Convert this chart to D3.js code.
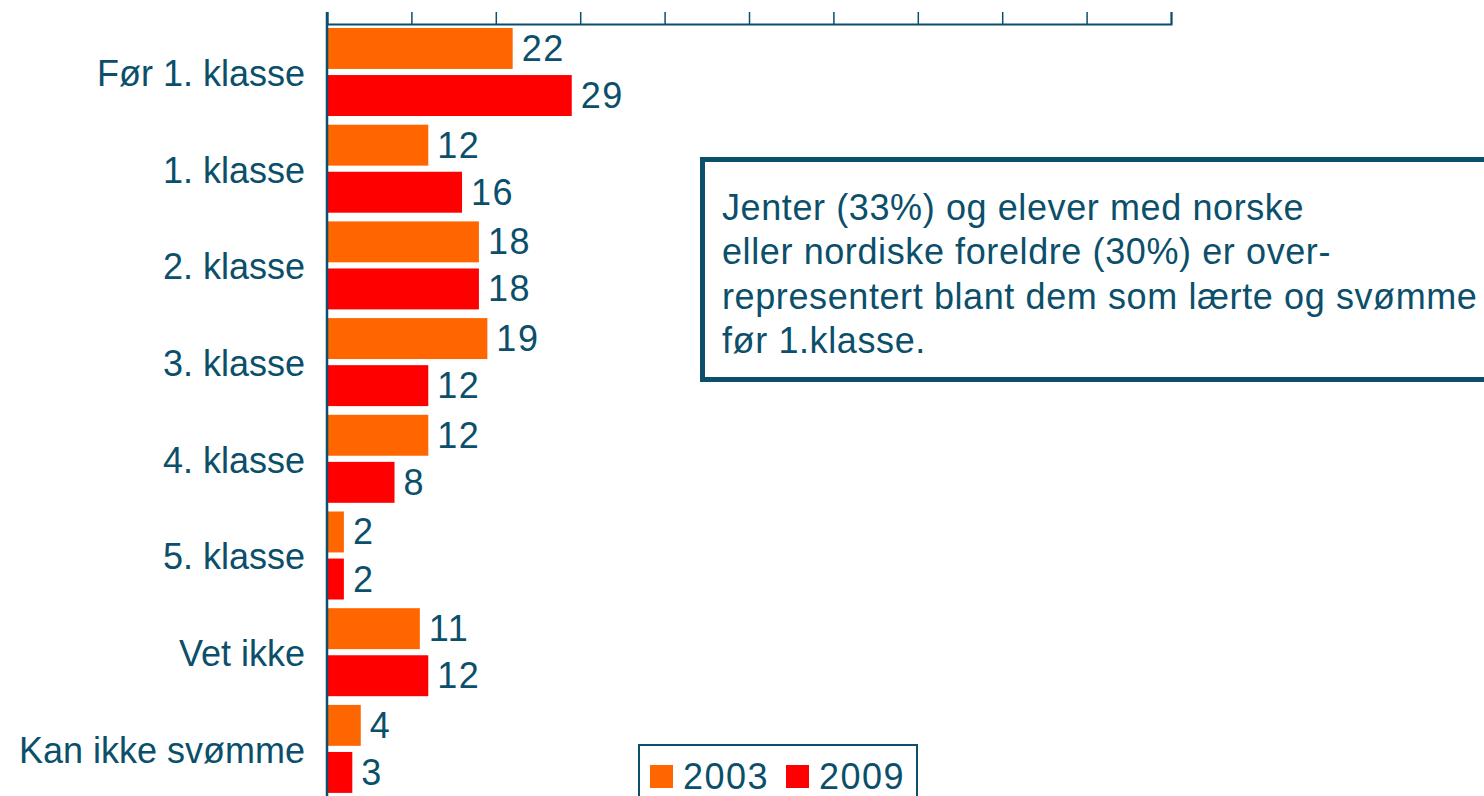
<!DOCTYPE html>
<meta charset="utf-8">
<body style="margin:0;background:#fff">
<svg width="1484" height="796"></svg>
<script src="https://cdnjs.cloudflare.com/ajax/libs/d3/7.8.5/d3.min.js"></script>
<script>

var categories = ["Før 1. klasse", "1. klasse", "2. klasse", "3. klasse", "4. klasse", "5. klasse", "Vet ikke", "Kan ikke svømme"];
var years = ["2003", "2009"];
var values2003 = [22, 12, 18, 19, 12, 2, 11, 4];
var values2009 = [29, 16, 18, 12, 8, 2, 12, 3];
var noteLines = [
  "Jenter (33%) og elever med norske",
  "eller nordiske foreldre (30%) er over-",
  "representert blant dem som lærte og svømme",
  "før 1.klasse."
];

var ink = "#0b4f6b";
var colors = {"2003": "#ff6600", "2009": "#ff0000"};
var font = "Liberation Sans, Arial, sans-serif";

var svg = d3.select("svg");

var data = categories.map(function(c, i) {
  return {cat: c, vals: [{year: "2003", v: values2003[i]}, {year: "2009", v: values2009[i]}]};
});

var xScale = d3.scaleLinear().domain([0, 100]).range([327, 1171]);
var yScale = d3.scaleBand().domain(categories).range([24, 24 + 8 * 96.7]);
var inner = d3.scaleBand().domain(years).range([4, 92]).paddingInner(0.13);

// top axis, ticks only
var ax = svg.append("g")
  .attr("transform", "translate(0,24)")
  .call(d3.axisTop(xScale).ticks(10).tickSize(12).tickFormat(""));
ax.select(".domain").attr("stroke", ink).attr("stroke-width", 2);
ax.selectAll(".tick line").attr("stroke", ink).attr("stroke-width", 1.5);

var groups = svg.selectAll(".grp").data(data).enter().append("g")
  .attr("class", "grp")
  .attr("transform", function(d) { return "translate(0," + yScale(d.cat) + ")"; });

groups.selectAll("rect").data(function(d) { return d.vals; }).enter().append("rect")
  .attr("x", xScale(0))
  .attr("y", function(d) { return inner(d.year); })
  .attr("width", function(d) { return xScale(d.v) - xScale(0); })
  .attr("height", inner.bandwidth())
  .attr("fill", function(d) { return colors[d.year]; });

groups.selectAll(".val").data(function(d) { return d.vals; }).enter().append("text")
  .attr("class", "val")
  .attr("x", function(d) { return xScale(d.v) + 9; })
  .attr("y", function(d) { return inner(d.year) + inner.bandwidth() / 2 + 12.5; })
  .attr("font-family", font)
  .attr("font-size", 36)
  .attr("letter-spacing", 1.5)
  .attr("fill", ink)
  .text(function(d) { return d.v; });

groups.append("text")
  .attr("x", 305)
  .attr("y", yScale.bandwidth() / 2 + 13.5)
  .attr("text-anchor", "end")
  .attr("font-family", font)
  .attr("font-size", 36)
  .attr("fill", ink)
  .text(function(d) { return d.cat; });

// vertical axis line
svg.append("line")
  .attr("x1", 327).attr("x2", 327)
  .attr("y1", 12).attr("y2", 796)
  .attr("stroke", ink).attr("stroke-width", 2.5);

// note box
svg.append("rect")
  .attr("x", 702.5).attr("y", 159.5)
  .attr("width", 820).attr("height", 220)
  .attr("fill", "#fff")
  .attr("stroke", ink).attr("stroke-width", 5);

svg.append("g").selectAll("text").data(noteLines).enter().append("text")
  .attr("x", 722)
  .attr("y", function(d, i) { return 219.5 + i * 44.5; })
  .attr("font-family", font)
  .attr("font-size", 36)
  .attr("letter-spacing", 0.6)
  .attr("fill", ink)
  .text(function(d) { return d; });

// legend
var leg = svg.append("g");
leg.append("rect")
  .attr("x", 639).attr("y", 745)
  .attr("width", 278).attr("height", 70)
  .attr("fill", "#fff")
  .attr("stroke", ink).attr("stroke-width", 2);

var legX = {"2003": 650, "2009": 786};
years.forEach(function(y) {
  leg.append("rect")
    .attr("x", legX[y]).attr("y", 765)
    .attr("width", 23).attr("height", 23)
    .attr("fill", colors[y]);
  leg.append("text")
    .attr("x", legX[y] + 33).attr("y", 789)
    .attr("font-family", font)
    .attr("font-size", 36)
    .attr("letter-spacing", 1.5)
    .attr("fill", ink)
    .text(y);
});

</script>
</body>
